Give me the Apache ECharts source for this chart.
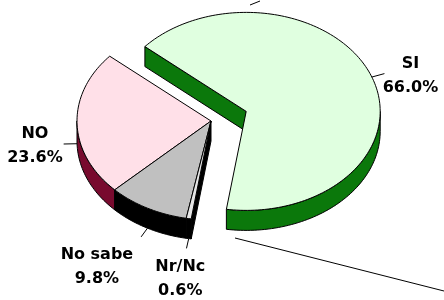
<!DOCTYPE html>
<html lang="es">
<head>
  <meta charset="UTF-8">
  <title>SI / NO</title>
  <script src="https://cdn.jsdelivr.net/npm/echarts@6/dist/echarts.min.js"></script>
  <style>
    html, body, #chart {
      width: 100%;
      height: 100%;
      margin: 0;
      padding: 0;
      background: #fff;
    }
  </style>
</head>
<body>
  <div id="chart"></div>
  <script>
    // data
    const categories = ['SI', 'NO', 'No sabe', 'Nr/Nc'];
    const values = [66.0, 23.6, 9.8, 0.6];

    // look
    const topColors = ['#E0FFE0', '#FFE0E8', '#C0C0C0', '#E6E6E6'];
    const sideColors = ['#0B780B', '#780A2E', '#000000', '#000000'];
    const explode = [0.28, 0, 0, 0];
    const labelOffset = [[0, 2], [-1, 2], [-27, 9], [-2, 7]];

    // layout of the tilted pie
    const CX = 211, CY = 121, RX = 134, RY = 99, DEPTH = 20;
    const START = 98.5; // degrees, slices go anticlockwise on screen
    const FONT_SIZE = 16, LINE_H = 24, FONT_FAMILY = '"DejaVu Sans", sans-serif';

    const total = values.reduce((a, b) => a + b, 0);
    const slices = [];
    let acc = START * Math.PI / 180;
    values.forEach((v, i) => {
      const span = v / total * Math.PI * 2;
      const hi = acc, lo = acc - span;
      acc = lo;
      const mid = (lo + hi) / 2;
      slices.push({
        lo, hi, mid,
        cx: CX + RX * explode[i] * Math.cos(mid),
        cy: CY + RY * explode[i] * Math.sin(mid)
      });
    });

    const measure = document.createElement('canvas').getContext('2d');
    measure.font = 'bold ' + FONT_SIZE + 'px ' + FONT_FAMILY;

    function pt(s, t, k, dy) {
      return [s.cx + RX * k * Math.cos(t), s.cy + RY * k * Math.sin(t) + (dy || 0)];
    }
    function arc(s, a, b, dy) {
      const n = Math.max(2, Math.ceil((b - a) / (Math.PI / 120)));
      const out = [];
      for (let j = 0; j <= n; j++) out.push(pt(s, a + (b - a) * j / n, 1, dy));
      return out;
    }

    function renderWalls(params, api) {
      const i = params.dataIndex, s = slices[i], n = slices.length;
      const style = { fill: sideColors[i], stroke: '#000', lineWidth: 1 };
      const children = [];
      const loNb = (i + 1) % n, hiNb = (i - 1 + n) % n;
      const radial = t => {
        const e = pt(s, t, 1);
        return { type: 'polygon', shape: { points: [[s.cx, s.cy], e, [e[0], e[1] + DEPTH], [s.cx, s.cy + DEPTH]] }, style };
      };
      if (Math.cos(s.lo) < 0 && (explode[i] || explode[loNb])) children.push(radial(s.lo));
      if (Math.cos(s.hi) > 0 && (explode[i] || explode[hiNb])) children.push(radial(s.hi));
      // front part of the rim
      for (let k = -2; k <= 2; k++) {
        const a = Math.max(s.lo, k * 2 * Math.PI), b = Math.min(s.hi, k * 2 * Math.PI + Math.PI);
        if (b > a) {
          const top = arc(s, a, b, 0), bottom = arc(s, a, b, DEPTH).reverse();
          children.push({ type: 'polygon', shape: { points: top.concat(bottom) }, style });
        }
      }
      return { type: 'group', children };
    }

    function renderTops(params, api) {
      const i = params.dataIndex, s = slices[i];
      const children = [];
      children.push({
        type: 'polygon',
        shape: { points: [[s.cx, s.cy]].concat(arc(s, s.lo, s.hi, 0)) },
        style: { fill: topColors[i], stroke: '#000', lineWidth: 1 }
      });
      const c = Math.cos(s.mid), sn = Math.sin(s.mid);
      const dy = sn > 0 ? DEPTH : 0;
      children.push({
        type: 'polyline',
        shape: { points: [pt(s, s.mid, 1, dy), pt(s, s.mid, 1.1, dy)] },
        style: { stroke: '#000', lineWidth: 1, fill: null }
      });
      const name = categories[i];
      const pct = api.value(0).toFixed(1) + '%';
      const w = Math.max(measure.measureText(name).width, measure.measureText(pct).width);
      const h = LINE_H * 2;
      const p = pt(s, s.mid, 1.1, dy);
      const x = p[0] + c * w / 2 + labelOffset[i][0];
      const y = p[1] + (Math.abs(sn) > 0.5 ? sn * h / 2 : 0) + labelOffset[i][1];
      children.push({
        type: 'text',
        x, y,
        style: {
          text: name + '\n' + pct,
          font: 'bold ' + FONT_SIZE + 'px ' + FONT_FAMILY,
          lineHeight: LINE_H,
          fill: '#000',
          align: 'center',
          verticalAlign: 'middle'
        }
      });
      return { type: 'group', children };
    }

    const seriesData = values.map((v, i) => ({ name: categories[i], value: v }));

    const chart = echarts.init(document.getElementById('chart'));
    chart.setOption({
      animation: false,
      backgroundColor: '#fff',
      graphic: [
        { type: 'line', shape: { x1: 250, y1: 5, x2: 260, y2: 1 }, style: { stroke: '#000', lineWidth: 1 } },
        { type: 'line', shape: { x1: 235, y1: 238, x2: 444, y2: 291 }, style: { stroke: '#000', lineWidth: 1 } }
      ],
      series: [
        { type: 'custom', coordinateSystem: 'none', z: 1, silent: true, renderItem: renderWalls, data: seriesData },
        { type: 'custom', coordinateSystem: 'none', z: 2, silent: true, renderItem: renderTops, data: seriesData }
      ]
    });
  </script>
</body>
</html>
